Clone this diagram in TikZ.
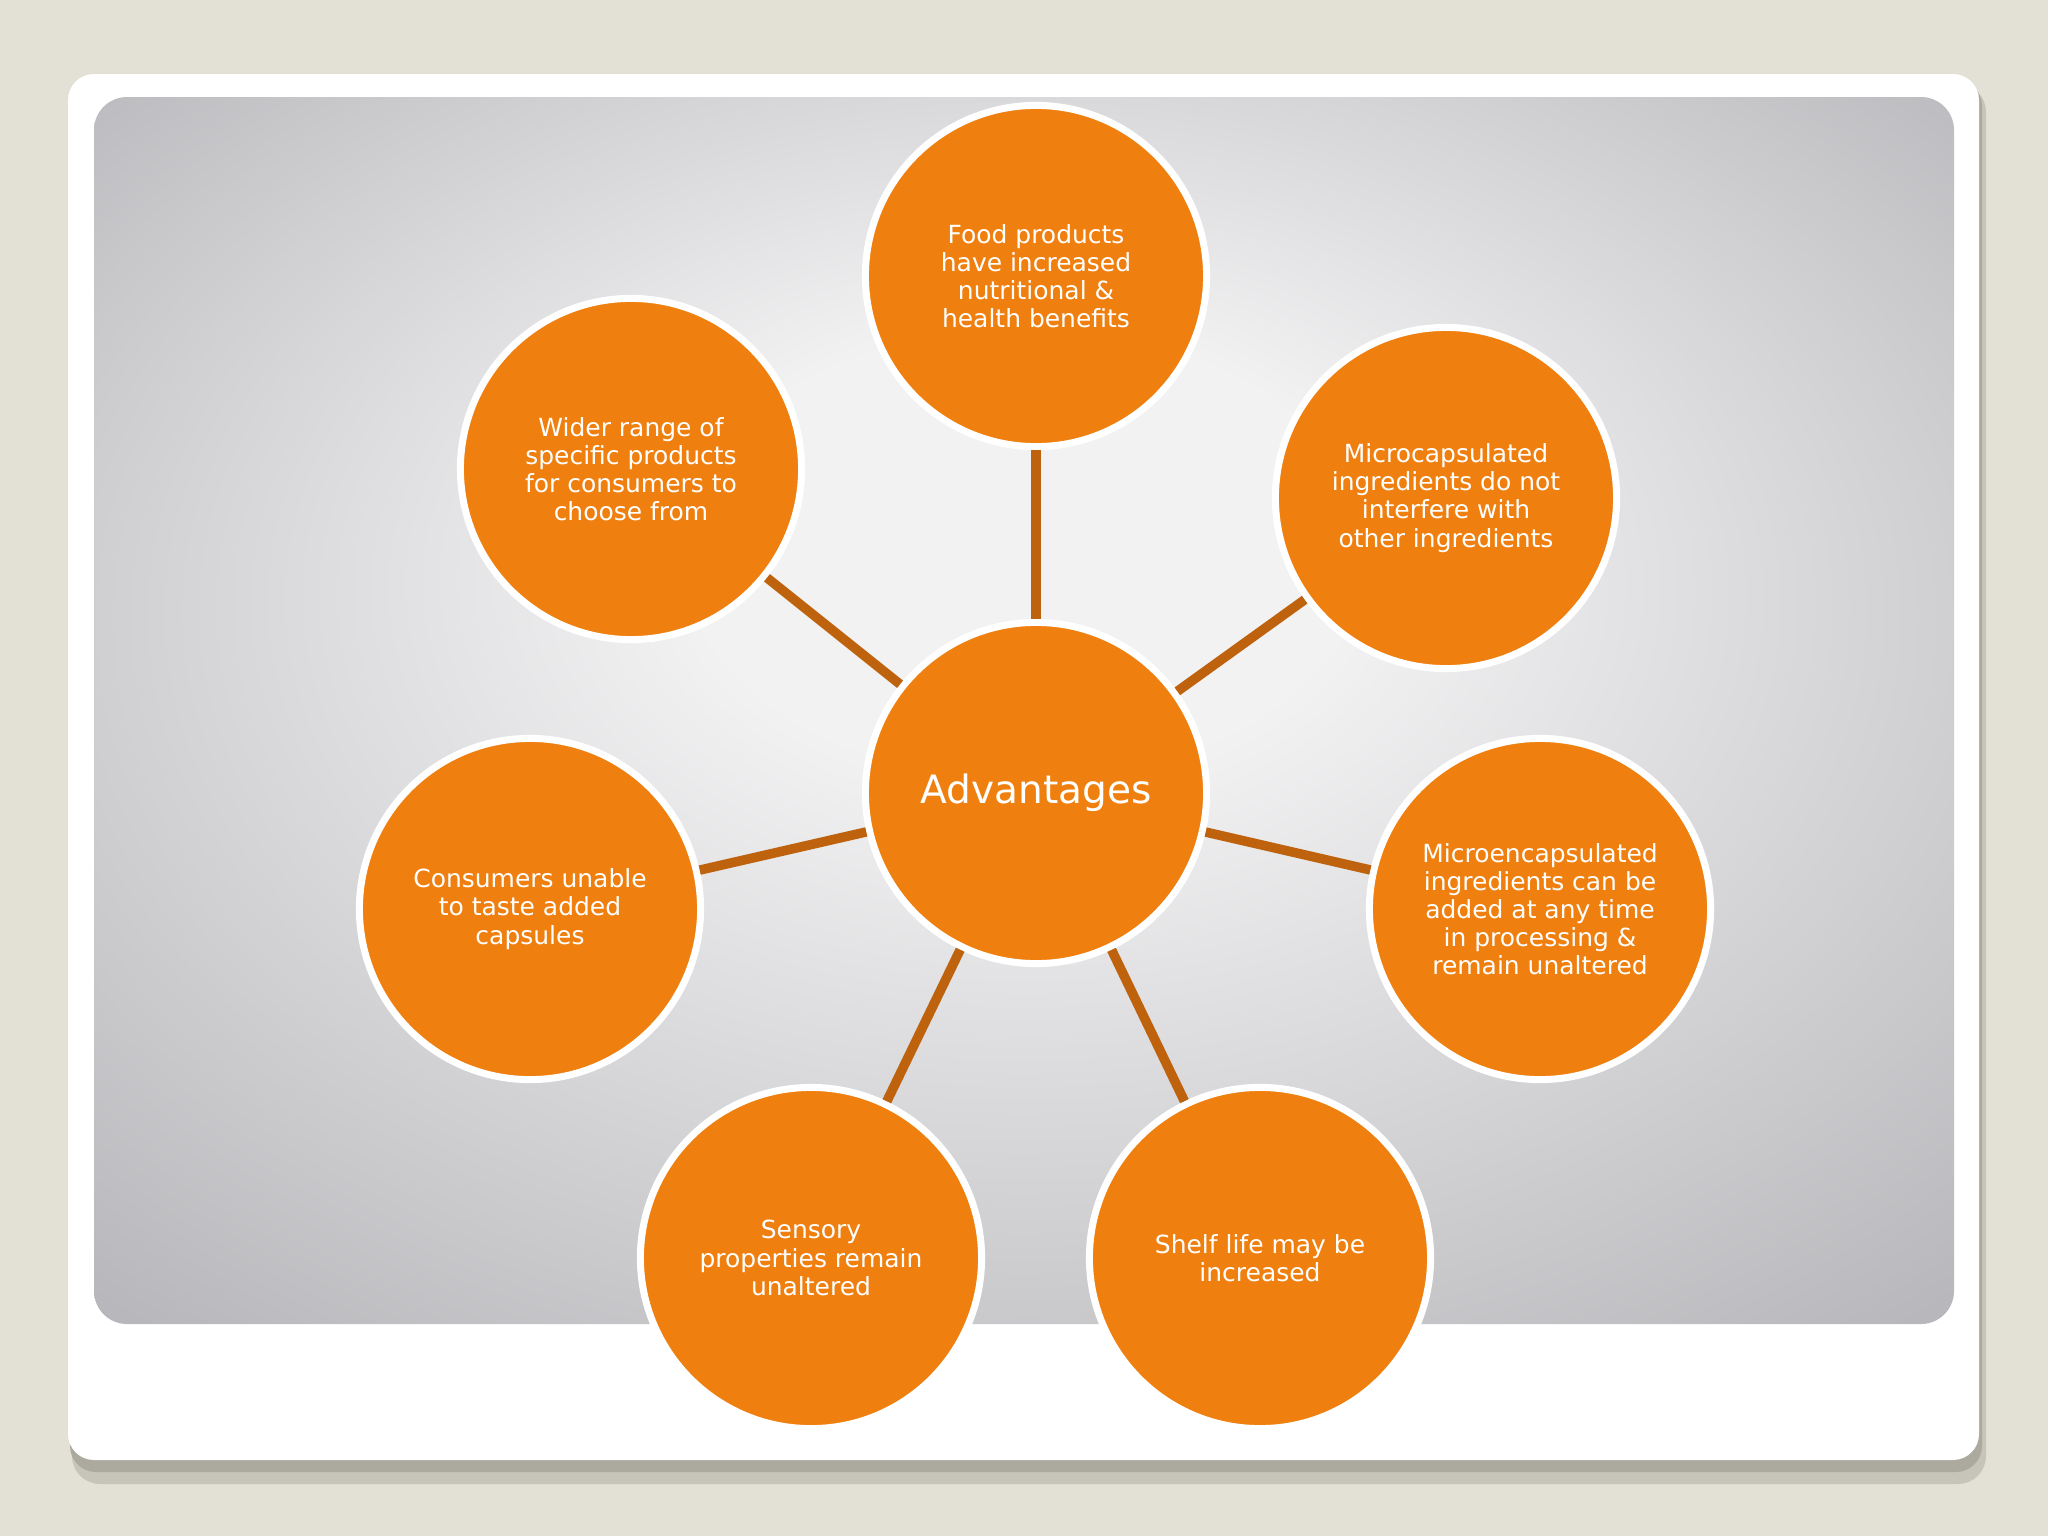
\documentclass[tikz,border=0pt]{standalone}
\usepackage{fontspec}
\setmainfont{DejaVu Sans}
\usepackage{tikz}
\usetikzlibrary{shapes.geometric, positioning, calc}

\definecolor{slidebg}{HTML}{E3E0D5}
\definecolor{shadowgray}{HTML}{ACAA9E}
\definecolor{panelin}{HTML}{F2F2F3}
\definecolor{panelout}{HTML}{A2A1A6}
\definecolor{advorange}{HTML}{EF7F0E}
\definecolor{linkbrown}{HTML}{BE620E}

\pgfdeclareradialshading{panelshade}{\pgfpoint{0bp}{8bp}}{%
  color(0bp)=(panelin); color(9bp)=(panelin); color(46bp)=(panelout)}

\tikzset{bubble/.style={circle, fill=advorange, draw=white, line width=0.07cm,
  minimum size=3.41cm, inner sep=0pt, text=white, align=center,
  font=\fontsize{7.1}{8}\selectfont}}
\tikzset{hub/.style={bubble, font=\fontsize{11.1}{13}\selectfont}}
\tikzset{link/.style={linkbrown, line width=0.095cm}}

\begin{document}
\begin{tikzpicture}[x=0.01cm,y=-0.01cm]

% The slide
\useasboundingbox (0,0) rectangle (2048,1536);
\fill[slidebg] (0,0) rectangle (2048,1536);
\fill[shadowgray!50!slidebg, rounded corners=0.28cm] (72,84) rectangle (1986,1484);
\fill[shadowgray, rounded corners=0.26cm] (70,80) rectangle (1982,1472);
\fill[white, rounded corners=0.26cm] (68,74) rectangle (1979,1460);
\shade[shading=panelshade, rounded corners=0.33cm] (94,97) rectangle (1954,1324);

% The bubbles
\node[hub] (adv) at (1036,793) {Advantages};
\node[bubble] (food) at (1036,276) {Food products\\have increased\\nutritional \&\\health benefits};
\node[bubble] (micro) at (1446,498) {Microcapsulated\\ingredients do not\\interfere with\\other ingredients};
\node[bubble] (added) at (1540,909) {Microencapsulated\\ingredients can be\\added at any time\\in processing \&\\remain unaltered};
\node[bubble] (shelf) at (1260,1258) {Shelf life may be\\increased};
\node[bubble] (sensory) at (811,1258) {Sensory\\properties remain\\unaltered};
\node[bubble] (taste) at (530,909) {Consumers unable\\to taste added\\capsules};
\node[bubble] (range) at (631,469) {Wider range of\\specific products\\for consumers to\\choose from};

% The links
\foreach \b in {food, micro, added, shelf, sensory, taste, range}
  \draw[link] (adv) -- (\b);

\end{tikzpicture}
\end{document}
